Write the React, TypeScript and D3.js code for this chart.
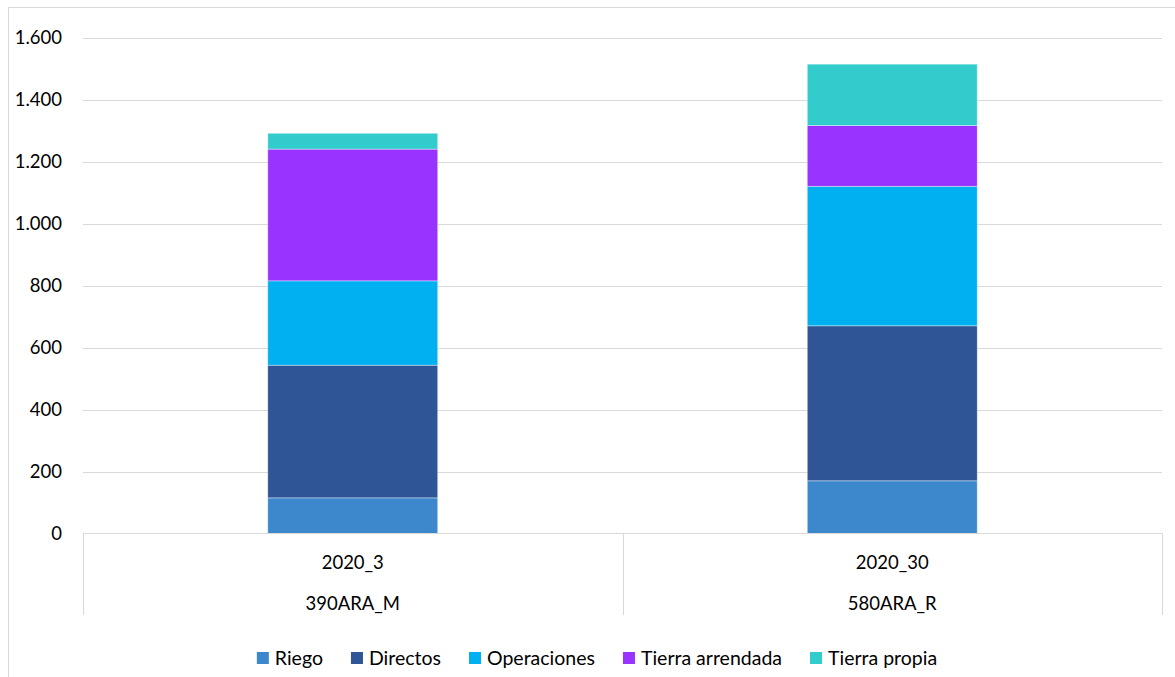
import React, { useEffect, useRef } from "react";
import * as d3 from "d3";

// Cost breakdown per farm scenario (stacked)
const categories = ["2020_3", "2020_30"];
const subLabels = ["390ARA_M", "580ARA_R"];
const seriesNames = ["Riego", "Directos", "Operaciones", "Tierra arrendada", "Tierra propia"];
const seriesColors = ["#3D88CD", "#2F5597", "#00B0F0", "#9933FF", "#33CCCC"];
const riego = [115, 170];
const directos = [428, 500];
const operaciones = [272, 450];
const tierraArrendada = [425, 196];
const tierraPropia = [51, 198];
const yTicks = [0, 200, 400, 600, 800, 1000, 1200, 1400, 1600];

const W = 1175;
const H = 677;
const FONT = "Lato, 'Open Sans', sans-serif";

export default function App() {
  const ref = useRef<SVGSVGElement | null>(null);

  useEffect(() => {
    const svg = d3.select(ref.current);
    svg.selectAll("*").remove();

    const plot = { left: 83, right: 1162, top: 37.5, bottom: 533.5 };
    const grey = "#D9D9D9";

    // outer chart frame
    svg.append("path")
      .attr("d", `M8.5,${H} V7.5 H${W}`)
      .attr("fill", "none")
      .attr("stroke", grey)
      .attr("stroke-width", 1);

    const y = d3.scaleLinear().domain([0, 1600]).range([plot.bottom, plot.top]);
    const x = d3.scaleBand<string>().domain(categories).range([plot.left, plot.right]).padding(0);
    const barFrac = 0.315;

    const locale = d3.formatLocale({ decimal: ",", thousands: ".", grouping: [3], currency: ["", "€"] });
    const fmt = locale.format(",d");

    // gridlines + y tick labels
    const g = svg.append("g");
    g.selectAll("line.grid")
      .data(yTicks.filter((t) => t > 0))
      .join("line")
      .attr("class", "grid")
      .attr("x1", plot.left)
      .attr("x2", plot.right)
      .attr("y1", (d) => Math.round(y(d)) + 0.5)
      .attr("y2", (d) => Math.round(y(d)) + 0.5)
      .attr("stroke", grey)
      .attr("stroke-width", 1);

    g.selectAll("text.tick")
      .data(yTicks)
      .join("text")
      .attr("class", "tick")
      .attr("x", 62)
      .attr("y", (d) => y(d))
      .attr("dy", "0.36em")
      .attr("text-anchor", "end")
      .attr("font-family", FONT)
      .attr("font-size", 18.5)
      .attr("fill", "#000")
      .text((d) => fmt(d));

    // stacked bars
    const rows = categories.map((c, i) => ({
      cat: c,
      Riego: riego[i],
      Directos: directos[i],
      Operaciones: operaciones[i],
      "Tierra arrendada": tierraArrendada[i],
      "Tierra propia": tierraPropia[i],
    }));
    const stack = d3.stack<any>().keys(seriesNames)(rows);
    const bw = x.bandwidth() * barFrac;

    svg.append("g")
      .selectAll("g")
      .data(stack)
      .join("g")
      .attr("fill", (_d, i) => seriesColors[i])
      .selectAll("rect")
      .data((d) => d)
      .join("rect")
      .attr("x", (d: any) => (x(d.data.cat) as number) + (x.bandwidth() - bw) / 2)
      .attr("width", bw)
      .attr("y", (d) => y(d[1]))
      .attr("height", (d) => y(d[0]) - y(d[1]))
      .attr("stroke", "rgba(255,255,255,0.5)")
      .attr("stroke-width", 0.75);

    // category axis with grouping lines
    const ax = svg.append("g");
    ax.append("line")
      .attr("x1", plot.left).attr("x2", plot.right)
      .attr("y1", plot.bottom).attr("y2", plot.bottom)
      .attr("stroke", grey).attr("stroke-width", 1);
    const dividers = [plot.left, ...categories.slice(1).map((c) => x(c) as number), plot.right];
    ax.selectAll("line.div")
      .data(dividers)
      .join("line")
      .attr("class", "div")
      .attr("x1", (d) => Math.round(d) + 0.5)
      .attr("x2", (d) => Math.round(d) + 0.5)
      .attr("y1", plot.bottom)
      .attr("y2", 615)
      .attr("stroke", grey)
      .attr("stroke-width", 1);

    ax.selectAll("text.cat")
      .data(categories)
      .join("text")
      .attr("class", "cat")
      .attr("x", (d) => (x(d) as number) + x.bandwidth() / 2)
      .attr("y", 568.5)
      .attr("text-anchor", "middle")
      .attr("font-family", FONT)
      .attr("font-size", 18.5)
      .text((d) => d);

    ax.selectAll("text.sub")
      .data(subLabels)
      .join("text")
      .attr("class", "sub")
      .attr("x", (_d, i) => (x(categories[i]) as number) + x.bandwidth() / 2)
      .attr("y", 609.5)
      .attr("text-anchor", "middle")
      .attr("font-family", FONT)
      .attr("font-size", 18.5)
      .text((d) => d);

    // legend, centred
    const lg = svg.append("g");
    const items = lg.selectAll("g")
      .data(seriesNames)
      .join("g");
    items.append("rect")
      .attr("width", 12).attr("height", 12)
      .attr("y", 652)
      .attr("fill", (_d, i) => seriesColors[i]);
    const texts = items.append("text")
      .attr("x", 18)
      .attr("y", 664.5)
      .attr("font-family", FONT)
      .attr("font-size", 19.5)
      .text((d) => d);
    const widths: number[] = [];
    texts.each(function () {
      widths.push((this as SVGTextElement).getComputedTextLength());
    });
    const gap = 28;
    const total = widths.reduce((a, w) => a + 18 + w, 0) + gap * (widths.length - 1);
    let cx = 597 - total / 2;
    items.each(function (_d, i) {
      d3.select(this).attr("transform", `translate(${cx},0)`);
      cx += 18 + widths[i] + gap;
    });
  }, []);

  return (
    <svg
      ref={ref}
      width={W}
      height={H}
      style={{ position: "absolute", left: 0, top: 0, background: "#fff" }}
    />
  );
}
